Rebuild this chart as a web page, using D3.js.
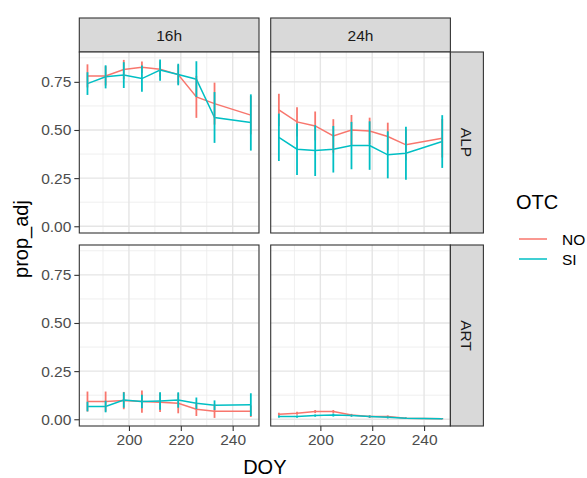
<!DOCTYPE html>
<html><head><meta charset="utf-8">
<script src="https://cdn.jsdelivr.net/npm/d3@7"></script>
<style>
html,body{margin:0;padding:0;background:#fff;}
svg{display:block;font-family:"Liberation Sans",Arial,sans-serif;}
</style></head>
<body><svg id="c" width="587" height="478"></svg>
<script>
// ---- data ----
const doy = [184, 191, 198, 205, 212, 219, 226, 233, 247];
const hours = ["16h", "24h"];
const sites = ["ALP", "ART"];
const otcLevels = ["NO", "SI"];
const yTicks = [0, 0.25, 0.5, 0.75];
const xTicks = [200, 220, 240];

const alp16_NO     = [0.781, 0.781, 0.814, 0.826, 0.816, 0.788, 0.672, 0.637, 0.577];
const alp16_NO_err = [0.060, 0.050, 0.050, 0.030, 0.040, 0.050, 0.109, 0.109, 0.100];
const alp16_SI     = [0.741, 0.776, 0.785, 0.767, 0.811, 0.788, 0.764, 0.565, 0.539];
const alp16_SI_err = [0.059, 0.060, 0.067, 0.068, 0.055, 0.056, 0.093, 0.132, 0.146];

const alp24_NO     = [0.604, 0.542, 0.521, 0.469, 0.500, 0.495, 0.466, 0.423, 0.457];
const alp24_NO_err = [0.084, 0.076, 0.075, 0.087, 0.078, 0.069, 0.072, 0.080, 0.100];
const alp24_SI     = [0.462, 0.400, 0.393, 0.400, 0.419, 0.419, 0.371, 0.379, 0.440];
const alp24_SI_err = [0.123, 0.134, 0.132, 0.121, 0.123, 0.126, 0.122, 0.138, 0.137];

const art16_NO     = [0.092, 0.092, 0.097, 0.092, 0.088, 0.083, 0.052, 0.042, 0.042];
const art16_NO_err = [0.052, 0.052, 0.045, 0.058, 0.050, 0.052, 0.035, 0.035, 0.030];
const art16_SI     = [0.066, 0.066, 0.100, 0.092, 0.095, 0.100, 0.083, 0.073, 0.076];
const art16_SI_err = [0.025, 0.030, 0.040, 0.035, 0.045, 0.040, 0.030, 0.025, 0.059];

const art24_NO     = [0.026, 0.031, 0.040, 0.040, 0.022, 0.014, 0.014, 0.005, 0.003];
const art24_NO_err = [0.008, 0.008, 0.008, 0.008, 0.006, 0.006, 0.006, 0.004, 0.003];
const art24_SI     = [0.014, 0.014, 0.019, 0.022, 0.019, 0.014, 0.010, 0.005, 0.003];
const art24_SI_err = [0.006, 0.006, 0.006, 0.008, 0.006, 0.006, 0.006, 0.004, 0.003];

const series = {
  "ALP|16h|NO": [alp16_NO, alp16_NO_err], "ALP|16h|SI": [alp16_SI, alp16_SI_err],
  "ALP|24h|NO": [alp24_NO, alp24_NO_err], "ALP|24h|SI": [alp24_SI, alp24_SI_err],
  "ART|16h|NO": [art16_NO, art16_NO_err], "ART|16h|SI": [art16_SI, art16_SI_err],
  "ART|24h|NO": [art24_NO, art24_NO_err], "ART|24h|SI": [art24_SI, art24_SI_err]
};
const colors = {NO: "#F8766D", SI: "#00BFC4"};

// ---- layout ----
const svg = d3.select("#c");
const colX = [79.3, 270.7], panelW = 179.7;
const rowY = [52, 245], panelH = 181;
const stripTop = 18, stripRightW = 33;

const xDomain = [180.85, 250.15];
const yDomain = [-0.035, 0.905];

const grid = svg.append("g");
hours.forEach((h, ci) => {
  const x = d3.scaleLinear().domain(xDomain).range([colX[ci], colX[ci] + panelW]);
  // top strip
  svg.append("rect").attr("x", colX[ci]).attr("y", stripTop).attr("width", panelW).attr("height", rowY[0] - stripTop)
    .attr("fill", "#d9d9d9").attr("stroke", "#333").attr("stroke-width", 1.1);
  svg.append("text").attr("x", colX[ci] + panelW / 2).attr("y", (stripTop + rowY[0]) / 2).attr("dy", "0.36em")
    .attr("text-anchor", "middle").attr("font-size", 15.5).attr("fill", "#1a1a1a").text(h);

  sites.forEach((s, ri) => {
    const y = d3.scaleLinear().domain(yDomain).range([rowY[ri] + panelH, rowY[ri]]);
    const g = svg.append("g");
    g.append("rect").attr("x", colX[ci]).attr("y", rowY[ri]).attr("width", panelW).attr("height", panelH).attr("fill", "#fff");
    // minor grid
    [190, 210, 230, 250].forEach(v => {
      g.append("line").attr("x1", x(v)).attr("x2", x(v)).attr("y1", rowY[ri]).attr("y2", rowY[ri] + panelH)
        .attr("stroke", "#ebebeb").attr("stroke-width", 0.8);
    });
    [0.125, 0.375, 0.625, 0.875].forEach(v => {
      g.append("line").attr("y1", y(v)).attr("y2", y(v)).attr("x1", colX[ci]).attr("x2", colX[ci] + panelW)
        .attr("stroke", "#ebebeb").attr("stroke-width", 0.8);
    });
    // major grid
    xTicks.forEach(v => {
      g.append("line").attr("x1", x(v)).attr("x2", x(v)).attr("y1", rowY[ri]).attr("y2", rowY[ri] + panelH)
        .attr("stroke", "#e5e5e5").attr("stroke-width", 1.4);
    });
    yTicks.forEach(v => {
      g.append("line").attr("y1", y(v)).attr("y2", y(v)).attr("x1", colX[ci]).attr("x2", colX[ci] + panelW)
        .attr("stroke", "#e5e5e5").attr("stroke-width", 1.4);
    });
    // lines
    otcLevels.forEach(o => {
      const [vals] = series[s + "|" + h + "|" + o];
      const line = d3.line().x((d, i) => x(doy[i])).y(d => y(d));
      g.append("path").attr("d", line(vals)).attr("fill", "none").attr("stroke", colors[o]).attr("stroke-width", 1.5);
    });
    // error bars
    otcLevels.forEach(o => {
      const [vals, errs] = series[s + "|" + h + "|" + o];
      vals.forEach((v, i) => {
        g.append("line").attr("x1", x(doy[i])).attr("x2", x(doy[i]))
          .attr("y1", y(v - errs[i])).attr("y2", y(v + errs[i]))
          .attr("stroke", colors[o]).attr("stroke-width", 1.8);
      });
    });
    // border
    g.append("rect").attr("x", colX[ci]).attr("y", rowY[ri]).attr("width", panelW).attr("height", panelH)
      .attr("fill", "none").attr("stroke", "#333").attr("stroke-width", 1.1);

    // y axis
    if (ci === 0) {
      const ax = svg.append("g").attr("transform", `translate(${colX[0]},0)`)
        .call(d3.axisLeft(y).tickValues(yTicks).tickFormat(d3.format(".2f")).tickSize(5).tickPadding(3));
      ax.select(".domain").remove();
      ax.selectAll(".tick line").attr("stroke", "#333").attr("stroke-width", 1.1);
      ax.selectAll(".tick text").attr("fill", "#4d4d4d").attr("font-size", 15.5)
        .attr("font-family", "Liberation Sans, Arial, sans-serif");
    }
    // right strip
    if (ci === 1) {
      svg.append("rect").attr("x", colX[1] + panelW).attr("y", rowY[ri]).attr("width", stripRightW).attr("height", panelH)
        .attr("fill", "#d9d9d9").attr("stroke", "#333").attr("stroke-width", 1.1);
      const cx = colX[1] + panelW + stripRightW / 2, cy = rowY[ri] + panelH / 2;
      svg.append("text").attr("transform", `translate(${cx},${cy}) rotate(90)`).attr("dy", "0.36em")
        .attr("text-anchor", "middle").attr("font-size", 15.5).attr("fill", "#1a1a1a").text(s);
    }
    // x axis
    if (ri === 1) {
      const ax = svg.append("g").attr("transform", `translate(0,${rowY[1] + panelH})`)
        .call(d3.axisBottom(x).tickValues(xTicks).tickFormat(d3.format("d")).tickSize(5).tickPadding(3));
      ax.select(".domain").remove();
      ax.selectAll(".tick line").attr("stroke", "#333").attr("stroke-width", 1.1);
      ax.selectAll(".tick text").attr("fill", "#4d4d4d").attr("font-size", 15.5)
        .attr("font-family", "Liberation Sans, Arial, sans-serif");
    }
  });
});

// axis titles
svg.append("text").attr("x", colX[0] + (colX[1] + panelW - colX[0]) / 2).attr("y", 474)
  .attr("text-anchor", "middle").attr("font-size", 20).attr("fill", "#000").text("DOY");
svg.append("text").attr("transform", `translate(28,${(rowY[0] + rowY[1] + panelH) / 2}) rotate(-90)`)
  .attr("text-anchor", "middle").attr("font-size", 20).attr("fill", "#000").text("prop_adj");

// legend
const lg = svg.append("g");
lg.append("text").attr("x", 516).attr("y", 209).attr("font-size", 20).attr("fill", "#000").text("OTC");
otcLevels.forEach((o, i) => {
  const yy = 239 + i * 20;
  lg.append("line").attr("x1", 519).attr("x2", 547).attr("y1", yy).attr("y2", yy)
    .attr("stroke", colors[o]).attr("stroke-width", 1.5);
  lg.append("text").attr("x", 562).attr("y", yy).attr("dy", "0.36em").attr("font-size", 15.5).attr("fill", "#000").text(o);
});
</script></body></html>
